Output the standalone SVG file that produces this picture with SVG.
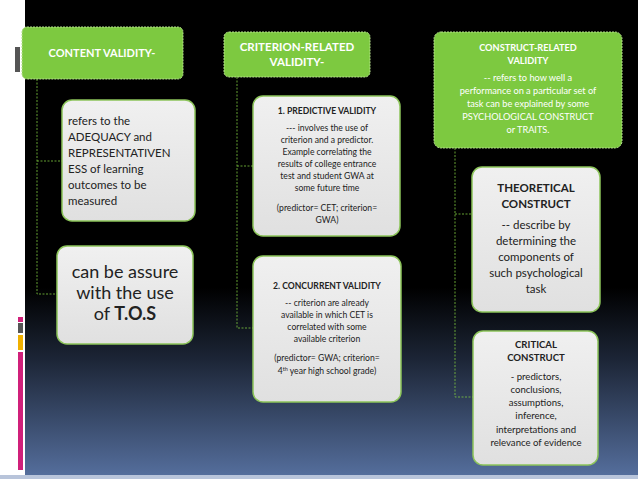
<svg xmlns="http://www.w3.org/2000/svg" width="638" height="479" viewBox="0 0 638 479">
<defs>
<linearGradient id="bg" x1="0" y1="0" x2="0" y2="1">
<stop offset="0" stop-color="#000"/><stop offset="0.6" stop-color="#000"/><stop offset="0.75" stop-color="#1c2536"/><stop offset="1" stop-color="#56709f"/>
</linearGradient>
<linearGradient id="gb" x1="0" y1="0" x2="0" y2="1"><stop offset="0" stop-color="#f0f0f0"/><stop offset="1" stop-color="#e0e0e0"/></linearGradient>
</defs>
<style>
.hd{fill:#7dc940;stroke:#b5e08c;stroke-width:1;stroke-dasharray:2 1}
.bx{fill:url(#gb);stroke:#8cc45a;stroke-width:1.5}
.c{fill:none;stroke:#7dc940;stroke-width:0.8;stroke-dasharray:2 1.5}
text{font-family:Lato,"Open Sans",sans-serif}
.w{fill:#fff;font-weight:bold}
.t{fill:#222}
</style>
<rect width="638" height="479" fill="url(#bg)"/>
<rect x="0" y="0" width="25" height="479" fill="#fff"/>
<rect x="0" y="475" width="638" height="4" fill="#b8c4da"/>
<rect x="15" y="47" width="5" height="25" fill="#555"/>
<rect x="18" y="317" width="5" height="5" fill="#d0207a"/>
<rect x="18" y="323" width="5" height="10" fill="#555"/>
<rect x="18" y="335" width="5" height="15" fill="#f0b000"/>
<rect x="18" y="352" width="5" height="118" fill="#d0207a"/>
<g id="connectors">
<path class="c" d="M37 79V294H57M37 161H62"/>
<path class="c" d="M237 77V328H253M237 166H253"/>
<path class="c" d="M455 148V397H473M455 214H472"/>
</g>
<g id="content">
<rect class="hd" x="22" y="27" width="161" height="52" rx="5"/>
<text class="w" x="102" y="57" text-anchor="middle" font-size="11">CONTENT VALIDITY-</text>
</g>
<g id="content-def">
<rect class="bx" x="62" y="100" width="133" height="121" rx="10"/>
<text class="t" font-size="11.5" x="68"><tspan x="68" y="125">refers to the</tspan><tspan x="68" y="141">ADEQUACY and</tspan><tspan x="68" y="157">REPRESENTATIVEN</tspan><tspan x="68" y="173">ESS  of learning</tspan><tspan x="68" y="189">outcomes to be</tspan><tspan x="68" y="205">measured</tspan></text>
</g>
<g id="tos">
<rect class="bx" x="57" y="246" width="136" height="98" rx="10"/>
<text class="t" font-size="18" text-anchor="middle"><tspan x="125" y="278">can be assure</tspan><tspan x="125" y="299">with the use</tspan><tspan x="125" y="320">of <tspan font-weight="bold">T.O.S</tspan></tspan></text>
</g>
<g id="criterion">
<rect class="hd" x="224" y="32" width="146" height="45" rx="5"/>
<text class="w" font-size="11.5" text-anchor="middle"><tspan x="297" y="51">CRITERION-RELATED</tspan><tspan x="297" y="66">VALIDITY-</tspan></text>
</g>
<g id="predictive">
<rect class="bx" x="253" y="96" width="147" height="140" rx="10"/>
<text class="t" font-size="8.6" text-anchor="middle"><tspan x="327" y="114" font-weight="bold">1. PREDICTIVE VALIDITY</tspan><tspan x="327" y="131">--- involves the use of</tspan><tspan x="327" y="143">criterion and a predictor.</tspan><tspan x="327" y="155">Example correlating the</tspan><tspan x="327" y="167">results of college entrance</tspan><tspan x="327" y="179">test and student GWA at</tspan><tspan x="327" y="191">some future time</tspan><tspan x="327" y="211">(predictor= CET; criterion=</tspan><tspan x="327" y="223">GWA)</tspan></text>
</g>
<g id="concurrent">
<rect class="bx" x="253" y="256" width="148" height="146" rx="10"/>
<text class="t" font-size="8.6" text-anchor="middle"><tspan x="327" y="289" font-weight="bold">2. CONCURRENT VALIDITY</tspan><tspan x="327" y="306">-- criterion are already</tspan><tspan x="327" y="318">available in which CET is</tspan><tspan x="327" y="330">correlated with some</tspan><tspan x="327" y="342">available criterion</tspan><tspan x="327" y="361">(predictor= GWA; criterion=</tspan><tspan x="327" y="374">4<tspan font-size="5.5" dy="-3">th</tspan><tspan dy="3"> year high school grade)</tspan></tspan></text>
</g>
<g id="construct">
<rect class="hd" x="434" y="32" width="188" height="116" rx="7"/>
<text font-size="9.2" text-anchor="middle" fill="#fff"><tspan x="528" y="51" font-weight="bold">CONSTRUCT-RELATED</tspan><tspan x="528" y="64" font-weight="bold">VALIDITY</tspan><tspan x="528" y="81">-- refers to how well a</tspan><tspan x="528" y="94">performance on a particular set  of</tspan><tspan x="528" y="107">task can be explained by some</tspan><tspan x="528" y="120">PSYCHOLOGICAL CONSTRUCT</tspan><tspan x="528" y="133">or TRAITS.</tspan></text>
</g>
<g id="theoretical">
<rect class="bx" x="472" y="167" width="128" height="145" rx="10"/>
<text class="t" font-size="11.5" text-anchor="middle"><tspan x="536" y="192" font-weight="bold">THEORETICAL</tspan><tspan x="536" y="208" font-weight="bold">CONSTRUCT</tspan><tspan x="536" y="229">-- describe by</tspan><tspan x="536" y="245">determining the</tspan><tspan x="536" y="261">components of</tspan><tspan x="536" y="277">such psychological</tspan><tspan x="536" y="293">task</tspan></text>
</g>
<g id="critical">
<rect class="bx" x="473" y="331" width="125" height="134" rx="10"/>
<text class="t" font-size="9.6" text-anchor="middle"><tspan x="536" y="348" font-weight="bold">CRITICAL</tspan><tspan x="536" y="361" font-weight="bold">CONSTRUCT</tspan><tspan x="536" y="380">- predictors,</tspan><tspan x="536" y="393">conclusions,</tspan><tspan x="536" y="406">assumptions,</tspan><tspan x="536" y="419">inference,</tspan><tspan x="536" y="433">interpretations and</tspan><tspan x="536" y="446">relevance of evidence</tspan></text>
</g>
</svg>
